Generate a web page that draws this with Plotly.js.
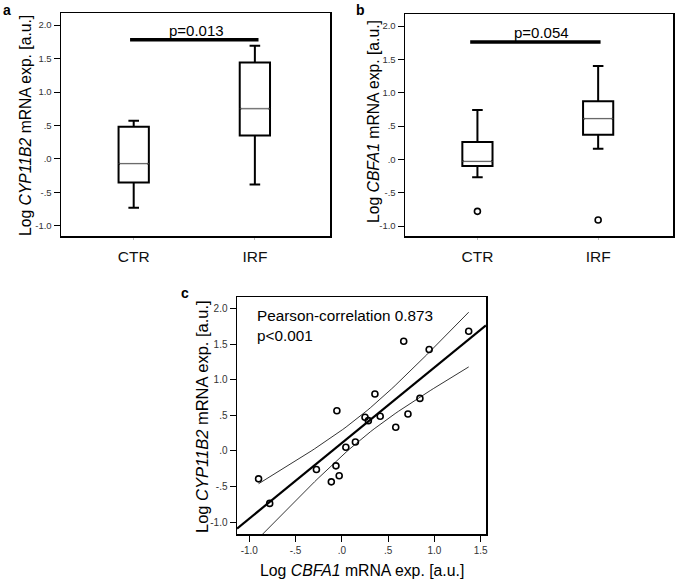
<!DOCTYPE html>
<html>
<head>
<meta charset="utf-8">
<script src="https://cdn.plot.ly/plotly-3.0.1.min.js"></script>
<style>html,body{margin:0;padding:0;background:#fff;}#chart{width:675px;height:579px;}</style>
</head>
<body>
<div id="chart"></div>
<script>
// ---------- data ----------
const groups = ['CTR', 'IRF'];
// Panel a: Log CYP11B2 box stats (CTR, IRF)
const cypLower = [-0.73, -0.38];
const cypQ1 = [-0.35, 0.35];
const cypMedian = [-0.07, 0.75];
const cypQ3 = [0.48, 1.44];
const cypUpper = [0.57, 1.69];
// Panel b: Log CBFA1 box stats (CTR, IRF)
const cbfLower = [-0.27, 0.16];
const cbfQ1 = [-0.10, 0.37];
const cbfMedian = [-0.03, 0.61];
const cbfQ3 = [0.26, 0.87];
const cbfUpper = [0.74, 1.40];
const cbfOutlierGroup = ['CTR', 'IRF'];
const cbfOutlierY = [-0.78, -0.91];
// significance
const pTexts = ['p=0.013', 'p=0.054'];
const pBarY = [1.78, 1.76];
// Panel c: scatter (x = Log CBFA1, y = Log CYP11B2)
const scatterX = [-0.90, -0.78, -0.275, -0.114, -0.064, -0.029, -0.054, 0.043, 0.146, 0.250, 0.286, 0.357, 0.414, 0.582, 0.668, 0.714, 0.843, 0.943, 1.37];
const scatterY = [-0.393, -0.738, -0.262, -0.435, -0.210, -0.350, 0.565, 0.051, 0.126, 0.472, 0.425, 0.799, 0.486, 0.332, 1.542, 0.519, 0.738, 1.425, 1.682];
const corrText = 'Pearson-correlation 0.873<br>p<0.001';
const titleCYP = 'Log <i>CYP11B2</i> mRNA exp. [a.u.]';
const titleCBF = 'Log <i>CBFA1</i> mRNA exp. [a.u.]';
const yTickVals = [-1, -0.5, 0, 0.5, 1, 1.5, 2];
const yTickText = ['-1.0', '-.5', '.0', '.5', '1.0', '1.5', '2.0'];
const xTickValsC = [-1, -0.5, 0, 0.5, 1, 1.5];
const xTickTextC = ['-1.0', '-.5', '.0', '.5', '1.0', '1.5'];

// ---------- regression + 95% CI of mean ----------
const n = scatterX.length;
const mx = scatterX.reduce((a, b) => a + b, 0) / n;
const my = scatterY.reduce((a, b) => a + b, 0) / n;
let sxx = 0, sxy = 0;
for (let i = 0; i < n; i++) { sxx += (scatterX[i] - mx) ** 2; sxy += (scatterX[i] - mx) * (scatterY[i] - my); }
const slope = sxy / sxx, icpt = my - slope * mx;
let sse = 0;
for (let i = 0; i < n; i++) { sse += (scatterY[i] - icpt - slope * scatterX[i]) ** 2; }
const s = Math.sqrt(sse / (n - 2));
const tval = 2.110; // t(0.975, df=17)
const xMin = Math.min(...scatterX), xMax = Math.max(...scatterX);
const ciX = [], ciLo = [], ciHi = [];
for (let k = 0; k <= 60; k++) {
  const x = xMin + (xMax - xMin) * k / 60;
  const yh = icpt + slope * x;
  const se = s * Math.sqrt(1 / n + (x - mx) ** 2 / sxx);
  ciX.push(x); ciLo.push(yh - tval * se); ciHi.push(yh + tval * se);
}
const xRangeC = [-1.133, 1.557];
const fitX = xRangeC;
const fitY = fitX.map(x => icpt + slope * x);

const FONT = 'Liberation Sans, Arial, sans-serif';
const BOXW = 0.25;

const boxCommon = {
  type: 'box', x: groups, boxpoints: false, width: BOXW, whiskerwidth: 0.35,
  fillcolor: 'rgba(0,0,0,0)', line: {color: '#000', width: 2}, showlegend: false, hoverinfo: 'skip'
};

const traces = [
  Object.assign({}, boxCommon, {xaxis: 'x', yaxis: 'y', q1: cypQ1, median: cypMedian, q3: cypQ3, lowerfence: cypLower, upperfence: cypUpper}),
  Object.assign({}, boxCommon, {xaxis: 'x2', yaxis: 'y2', q1: cbfQ1, median: cbfMedian, q3: cbfQ3, lowerfence: cbfLower, upperfence: cbfUpper}),
  {type: 'scatter', mode: 'markers', xaxis: 'x2', yaxis: 'y2', x: cbfOutlierGroup, y: cbfOutlierY,
   marker: {symbol: 'circle-open', size: 6, color: '#000', line: {width: 1.6}}, showlegend: false},
  {type: 'scatter', mode: 'lines', xaxis: 'x3', yaxis: 'y3', x: ciX, y: ciHi, line: {color: '#000', width: 0.8}, showlegend: false},
  {type: 'scatter', mode: 'lines', xaxis: 'x3', yaxis: 'y3', x: ciX, y: ciLo, line: {color: '#000', width: 0.8}, showlegend: false},
  {type: 'scatter', mode: 'lines', xaxis: 'x3', yaxis: 'y3', x: fitX, y: fitY, line: {color: '#000', width: 2.2}, showlegend: false},
  {type: 'scatter', mode: 'markers', xaxis: 'x3', yaxis: 'y3', x: scatterX, y: scatterY,
   marker: {symbol: 'circle-open', size: 6, color: '#000', line: {width: 1.6}}, showlegend: false}
];

const W = 675, H = 579;
const dx = (a, b) => [a / W, b / W];
const dy = (top, bottom) => [1 - bottom / H, 1 - top / H];

const yAxisBase = {
  range: [-1.15, 2.18], tickvals: yTickVals, ticktext: yTickText, ticks: 'outside', ticklen: 6, tickwidth: 1,
  tickcolor: '#000', tickfont: {size: 9.5, color: '#333', family: FONT}, showgrid: false, zeroline: false,
  showline: true, mirror: true, linecolor: '#000', linewidth: 1.5, automargin: false
};
const xCatBase = {
  type: 'category', range: [-0.6, 1.62], ticks: 'outside', ticklen: 2, tickcolor: '#bbb',
  tickfont: {size: 15.5, color: '#111', family: FONT}, ticklabelstandoff: 4, showgrid: false, zeroline: false,
  showline: true, mirror: true, linecolor: '#000', linewidth: 1.5, automargin: false
};

// median overlay (thin grey median like the reference)
const medianShapes = [];
[[cypMedian, 'x', 'y'], [cbfMedian, 'x2', 'y2']].forEach(([med, xr, yr]) => {
  med.forEach((m, i) => {
    medianShapes.push({type: 'line', xref: xr, yref: yr, x0: i - BOXW / 2 + 0.012, x1: i + BOXW / 2 - 0.012, y0: m, y1: m, line: {color: '#fff', width: 3}});
    medianShapes.push({type: 'line', xref: xr, yref: yr, x0: i - BOXW / 2, x1: i + BOXW / 2, y0: m, y1: m, line: {color: '#555', width: 1.1}});
  });
});

const titleFont = {size: 15.7, family: FONT};
const layout = {
  width: W, height: H, margin: {l: 0, r: 0, t: 0, b: 0}, paper_bgcolor: '#fff', plot_bgcolor: '#fff',
  font: {family: FONT, color: '#000'}, showlegend: false,
  xaxis: Object.assign({}, xCatBase, {domain: dx(61, 330), anchor: 'y'}),
  yaxis: Object.assign({}, yAxisBase, {domain: dy(13, 236), anchor: 'x'}),
  xaxis2: Object.assign({}, xCatBase, {domain: dx(405, 673), anchor: 'y2'}),
  yaxis2: Object.assign({}, yAxisBase, {domain: dy(14, 236), anchor: 'x2'}),
  xaxis3: {domain: dx(237, 486), anchor: 'y3', range: xRangeC, tickvals: xTickValsC, ticktext: xTickTextC,
    ticks: 'outside', ticklen: 6, tickcolor: '#000', tickfont: {size: 10, color: '#333', family: FONT},
    showgrid: false, zeroline: false, showline: true, mirror: true, linecolor: '#000', linewidth: 1.5, automargin: false},
  yaxis3: {domain: dy(297, 534), anchor: 'x3', range: [-1.168, 2.163], tickvals: yTickVals, ticktext: yTickText,
    ticks: 'outside', ticklen: 6, tickcolor: '#000', tickfont: {size: 10, color: '#333', family: FONT},
    showgrid: false, zeroline: false, showline: true, mirror: true, linecolor: '#000', linewidth: 1.5, automargin: false},
  shapes: [
    {type: 'line', xref: 'x', yref: 'y', x0: -0.03, x1: 1.03, y0: pBarY[0], y1: pBarY[0], line: {color: '#000', width: 3.5}},
    {type: 'line', xref: 'x2', yref: 'y2', x0: -0.06, x1: 1.02, y0: pBarY[1], y1: pBarY[1], line: {color: '#000', width: 3.5}}
  ].concat(medianShapes),
  annotations: [
    {xref: 'x', yref: 'y', x: 0.52, y: pBarY[0], text: pTexts[0], showarrow: false, yanchor: 'bottom', yshift: -1, font: {size: 15, family: FONT}},
    {xref: 'x2', yref: 'y2', x: 0.53, y: pBarY[1], text: pTexts[1], showarrow: false, yanchor: 'bottom', yshift: -1, font: {size: 15, family: FONT}},
    {xref: 'x3 domain', yref: 'y3 domain', x: 0.072, y: 0.965, text: corrText, showarrow: false, xanchor: 'left', yanchor: 'top', align: 'left', font: {size: 15.3, family: FONT}},
    // axis titles
    {xref: 'paper', yref: 'paper', x: 25 / W, y: 1 - 126 / H, text: titleCYP, textangle: -90, showarrow: false, xanchor: 'center', yanchor: 'middle', font: titleFont},
    {xref: 'paper', yref: 'paper', x: 373 / W, y: 1 - 122 / H, text: titleCBF, textangle: -90, showarrow: false, xanchor: 'center', yanchor: 'middle', font: titleFont},
    {xref: 'paper', yref: 'paper', x: 202 / W, y: 1 - 417 / H, text: titleCYP, textangle: -90, showarrow: false, xanchor: 'center', yanchor: 'middle', font: {size: 16.5, family: FONT}},
    {xref: 'paper', yref: 'paper', x: 362 / W, y: 1 - 570 / H, text: titleCBF, showarrow: false, xanchor: 'center', yanchor: 'middle', font: {size: 15.8, family: FONT}},
    // panel letters
    {xref: 'paper', yref: 'paper', x: 1 / W, y: 1 - 0 / H, text: '<b>a</b>', showarrow: false, xanchor: 'left', yanchor: 'top', font: {size: 14, family: FONT}},
    {xref: 'paper', yref: 'paper', x: 354 / W, y: 1 - 0 / H, text: '<b>b</b>', showarrow: false, xanchor: 'left', yanchor: 'top', font: {size: 14, family: FONT}},
    {xref: 'paper', yref: 'paper', x: 179 / W, y: 1 - 283 / H, text: '<b>c</b>', showarrow: false, xanchor: 'left', yanchor: 'top', font: {size: 14, family: FONT}}
  ]
};

Plotly.newPlot('chart', traces, layout, {staticPlot: true, displayModeBar: false});
</script>
</body>
</html>
